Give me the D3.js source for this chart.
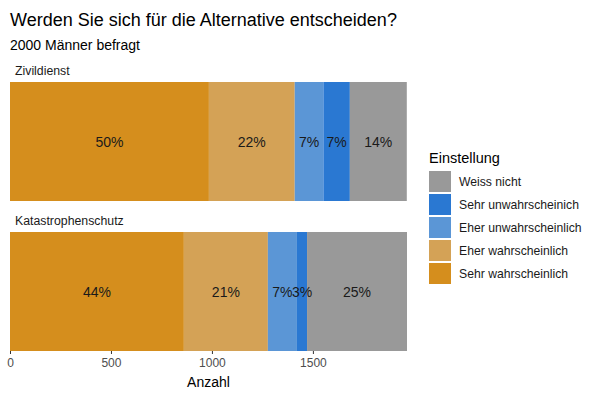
<!DOCTYPE html>
<html>
<head>
<meta charset="utf-8">
<script src="https://cdn.jsdelivr.net/npm/d3@7"></script>
<style>
	body { margin: 0; background: #fff; }
	text { font-family: 'Liberation Sans', Arial, sans-serif; }
</style>
</head>
<body>
<div id="chart"></div>
<script>
// data
const panels = ['Zivildienst', 'Katastrophenschutz']
const answers = [
	'Sehr wahrscheinlich',
	'Eher wahrscheinlich',
	'Eher unwahrscheinlich',
	'Sehr unwahrscheinich',
	'Weiss nicht',
]
const zivilCounts = [985, 425, 142, 131, 282]
const katCounts = [861, 416, 144, 50, 495]
const zivilLabels = ['50%', '22%', '7%', '7%', '14%']
const katLabels = ['44%', '21%', '7%', '3%', '25%']
const xTicks = [0, 500, 1000, 1500]
const colors = ['#D58E1D', '#D4A256', '#5B96D6', '#2A78D2', '#999999']

const width = 600
const height = 400
const margin = {left: 10, right: 193}

const svg = d3
	.select('#chart')
	.append('svg')
	.attr('width', width)
	.attr('height', height)

const color = d3.scaleOrdinal().domain(answers).range(colors)

const rows = [
	{panel: panels[0], counts: zivilCounts, labels: zivilLabels, top: 82},
	{panel: panels[1], counts: katCounts, labels: katLabels, top: 232},
]
const panelHeight = 119

const total = d3.max(rows, (r) => d3.sum(r.counts))
const x = d3
	.scaleLinear()
	.domain([0, total])
	.range([margin.left, width - margin.right])

// title
svg
	.append('text')
	.attr('x', 10)
	.attr('y', 26)
	.attr('font-size', 18)
	.attr('fill', '#000')
	.text('Werden Sie sich für die Alternative entscheiden?')
svg
	.append('text')
	.attr('x', 10)
	.attr('y', 50)
	.attr('font-size', 14)
	.attr('fill', '#000')
	.text('2000 Männer befragt')

rows.forEach((row) => {
	const g = svg.append('g')
	g.append('text')
		.attr('x', 15)
		.attr('y', row.top - 7)
		.attr('font-size', 12.3)
		.attr('fill', '#1a1a1a')
		.text(row.panel)

	let acc = 0
	const segs = row.counts.map((c, i) => {
		const s = {answer: answers[i], x0: acc, x1: acc + c, label: row.labels[i]}
		acc += c
		return s
	})

	g.selectAll('rect')
		.data(segs)
		.enter()
		.append('rect')
		.attr('x', (d) => x(d.x0))
		.attr('width', (d) => x(d.x1) - x(d.x0))
		.attr('y', row.top)
		.attr('height', panelHeight)
		.attr('fill', (d) => color(d.answer))

	g.selectAll('.lbl')
		.data(segs)
		.enter()
		.append('text')
		.attr('class', 'lbl')
		.attr('x', (d) => (x(d.x0) + x(d.x1)) / 2)
		.attr('y', row.top + panelHeight / 2 + 5)
		.attr('text-anchor', 'middle')
		.attr('font-size', 14)
		.attr('fill', '#1a1a1a')
		.text((d) => d.label)
})

// x axis
const axisG = svg
	.append('g')
	.attr('transform', `translate(0, ${rows[1].top + panelHeight})`)
	.call(
		d3
			.axisBottom(x)
			.tickValues(xTicks)
			.tickFormat(d3.format('d'))
			.tickSize(3)
			.tickPadding(4)
	)
axisG.select('.domain').remove()
axisG.selectAll('line').attr('stroke', '#333')
axisG
	.selectAll('text')
	.attr('font-size', 12)
	.attr('fill', '#4d4d4d')
	.attr('font-family', "'Liberation Sans', Arial, sans-serif")

svg
	.append('text')
	.attr('x', x(total / 2))
	.attr('y', 387)
	.attr('text-anchor', 'middle')
	.attr('font-size', 14)
	.attr('fill', '#000')
	.text('Anzahl')

// legend
const legend = svg.append('g').attr('transform', 'translate(429, 150)')
legend
	.append('text')
	.attr('x', 0)
	.attr('y', 13)
	.attr('font-size', 14.5)
	.attr('fill', '#000')
	.text('Einstellung')
const items = legend
	.selectAll('.item')
	.data(answers.slice().reverse())
	.enter()
	.append('g')
	.attr('class', 'item')
	.attr('transform', (d, i) => `translate(0, ${21 + i * 23})`)
items
	.append('rect')
	.attr('width', 22)
	.attr('height', 21)
	.attr('fill', (d) => color(d))
items
	.append('text')
	.attr('x', 30)
	.attr('y', 15)
	.attr('font-size', 12.2)
	.attr('fill', '#1a1a1a')
	.text((d) => d)
</script>
</body>
</html>
